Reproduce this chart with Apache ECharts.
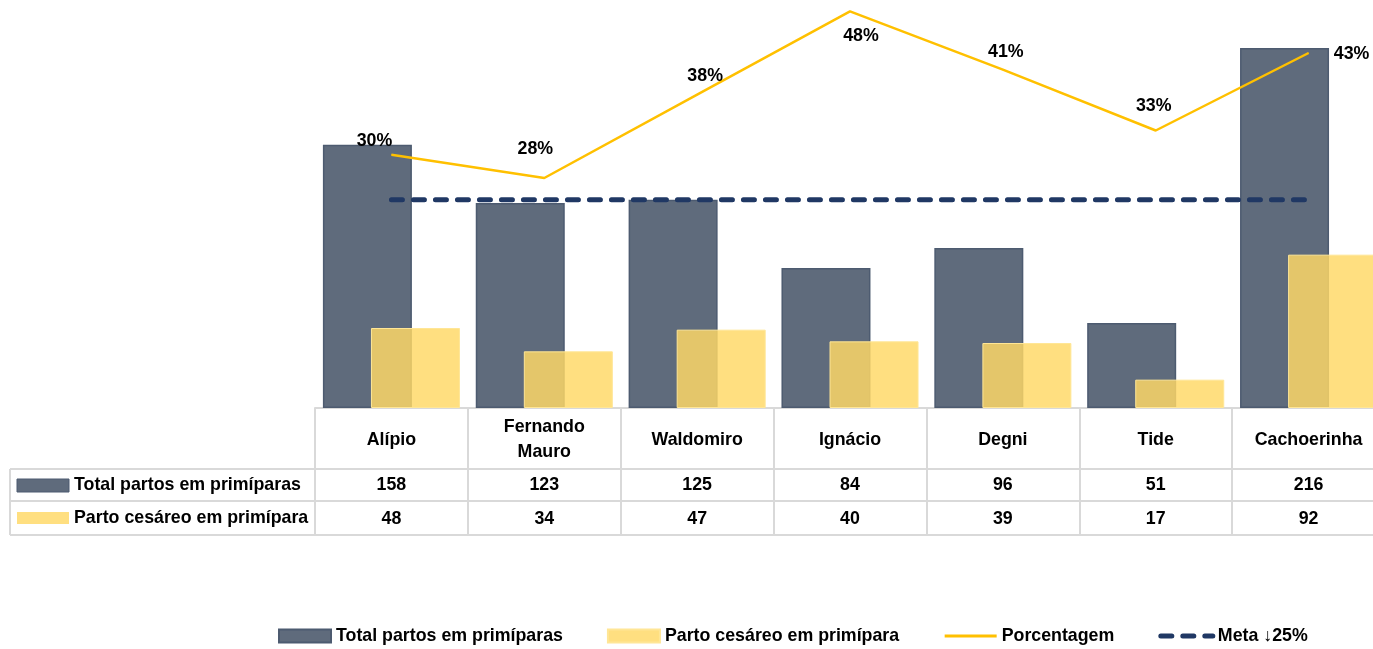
<!DOCTYPE html>
<html>
<head>
<meta charset="utf-8">
<title>Partos em primíparas</title>
<script src="https://cdn.jsdelivr.net/npm/echarts@6/dist/echarts.min.js"></script>
<style>
  html, body { margin: 0; padding: 0; background: #fff; }
  #chart { width: 1373px; height: 649px; }
</style>
</head>
<body>
<div id="chart"></div>
<script>
'use strict';

// dados
var categorias = ['Alípio', 'Fernando Mauro', 'Waldomiro', 'Ignácio', 'Degni', 'Tide', 'Cachoerinha'];
var totalPartos = [158, 123, 125, 84, 96, 51, 216];
var partoCesareo = [48, 34, 47, 40, 39, 17, 92];
var porcentagem = [0.304, 0.276, 0.376, 0.476, 0.406, 0.333, 0.426];
var meta = [0.25, 0.25, 0.25, 0.25, 0.25, 0.25, 0.25];

var nomeTotal = 'Total partos em primíparas';
var nomeCesareo = 'Parto cesáreo em primípara';
var nomePorc = 'Porcentagem';
var nomeMeta = 'Meta \u219325%';

var fonte = 'Liberation Sans';
var tamFonte = 17.8;
var corTotal = '#5F6B7C';
var corCesareo = 'rgba(255,217,102,0.83)';
var corGrade = '#D9D9D9';
var corMeta = '#203864';
var tracoMeta = [11, 11];

// deslocamento de cada rótulo de porcentagem (como no Excel)
var deslocRotulo = [[-17, -2], [-9, -17], [8, -7], [11, 36], [3, -6], [-2, -13], [43, 13]];

function textoBase(size) {
	return { fontFamily: fonte, fontWeight: 'bold', fontSize: size, color: '#000' };
}

var chart = echarts.init(document.getElementById('chart'));

var tabelaEixo = function(valores, offset, margem) {
	return {
		type: 'category',
		position: 'bottom',
		gridIndex: 0,
		offset: offset,
		data: valores.map(function(v){ return String(v); }),
		axisLine: { show: true, onZero: false, lineStyle: { color: corGrade, width: 2 } },
		axisTick: { show: false },
		axisLabel: Object.assign(textoBase(tamFonte), {
			interval: 0, margin: margem, verticalAlign: 'middle'
		}),
		splitLine: { show: false }
	};
};

var option = {
	animation: false,
	backgroundColor: '#fff',
	grid: { left: 315, right: -12, top: 8, bottom: 241, containLabel: false, outerBoundsMode: 'none' },
	legend: {
		left: 278,
		top: 627,
		padding: 0,
		itemWidth: 52,
		itemHeight: 13,
		itemGap: 44,
		textStyle: textoBase(tamFonte),
		data: [
			{ name: nomeTotal, icon: 'rect' },
			{ name: nomeCesareo, icon: 'rect' },
			{ name: nomePorc, itemStyle: { color: 'transparent', borderWidth: 0 }, lineStyle: { width: 3 } },
			{ name: nomeMeta, itemStyle: { color: 'transparent', borderWidth: 0 },
			  lineStyle: { width: 5, type: tracoMeta, cap: 'round', color: corMeta } }
		]
	},
	xAxis: [
		{
			type: 'category',
			position: 'bottom',
			data: categorias,
			axisLine: { show: true, onZero: false, lineStyle: { color: corGrade, width: 2 } },
			axisTick: { show: true, interval: 0, length: 127, lineStyle: { color: corGrade, width: 2 } },
			axisLabel: Object.assign(textoBase(tamFonte), {
				interval: 0, margin: 32, verticalAlign: 'middle', lineHeight: 25,
				formatter: function(v){ return v.replace(' ', '\n'); }
			})
		},
		tabelaEixo(totalPartos, 61, 16),
		tabelaEixo(partoCesareo, 93, 18),
		tabelaEixo(['', '', '', '', '', '', ''], 127, 5)
	],
	yAxis: [
		{ type: 'value', min: 0, max: 240, show: false },
		{ type: 'value', min: 0, max: 0.48, show: false }
	],
	graphic: [
		{ type: 'line', shape: { x1: 10, y1: 469, x2: 315, y2: 469 }, style: { stroke: corGrade, lineWidth: 2 } },
		{ type: 'line', shape: { x1: 10, y1: 501, x2: 315, y2: 501 }, style: { stroke: corGrade, lineWidth: 2 } },
		{ type: 'line', shape: { x1: 10, y1: 535, x2: 315, y2: 535 }, style: { stroke: corGrade, lineWidth: 2 } },
		{ type: 'line', shape: { x1: 10, y1: 469, x2: 10, y2: 535 }, style: { stroke: corGrade, lineWidth: 2 } },
		{ type: 'rect', shape: { x: 17, y: 479, width: 52, height: 13 }, style: { fill: corTotal, stroke: '#4D5B70', lineWidth: 1 } },
		{ type: 'rect', shape: { x: 17, y: 512, width: 52, height: 12 }, style: { fill: corCesareo } },
		{ type: 'text', left: 74, top: 476, style: Object.assign(textoBase(tamFonte), { text: nomeTotal, fill: '#000' }) },
		{ type: 'text', left: 74, top: 509, style: Object.assign(textoBase(tamFonte), { text: nomeCesareo, fill: '#000' }) }
	],
	series: [
		{
			name: nomeTotal,
			type: 'bar',
			data: totalPartos,
			barWidth: 89,
			barGap: '-46%',
			itemStyle: { color: corTotal, borderColor: '#4D5B70', borderWidth: 1.5 }
		},
		{
			name: nomeCesareo,
			type: 'bar',
			data: partoCesareo,
			barWidth: 89,
			barGap: '-46%',
			itemStyle: { color: corCesareo, borderColor: 'rgba(255,230,150,1)', borderWidth: 1 }
		},
		{
			name: nomeMeta,
			type: 'line',
			yAxisIndex: 1,
			data: meta,
			symbol: 'none',
			lineStyle: { color: corMeta, width: 5, type: tracoMeta, cap: 'round' },
			itemStyle: { color: corMeta }
		},
		{
			name: nomePorc,
			type: 'line',
			yAxisIndex: 1,
			symbol: 'circle',
			symbolSize: 1,
			showAllSymbol: true,
			lineStyle: { color: '#FFC000', width: 2.5 },
			itemStyle: { color: '#FFC000' },
			data: porcentagem.map(function(v, i){
				return { value: v, label: { offset: deslocRotulo[i] } };
			}),
			label: Object.assign(textoBase(tamFonte), {
				show: true,
				position: 'top',
				distance: 2,
				textBorderWidth: 0,
				formatter: function(p){ return Math.round(p.value * 100) + '%'; }
			}),
			z: 5
		}
	]
};

chart.setOption(option);
</script>
</body>
</html>
